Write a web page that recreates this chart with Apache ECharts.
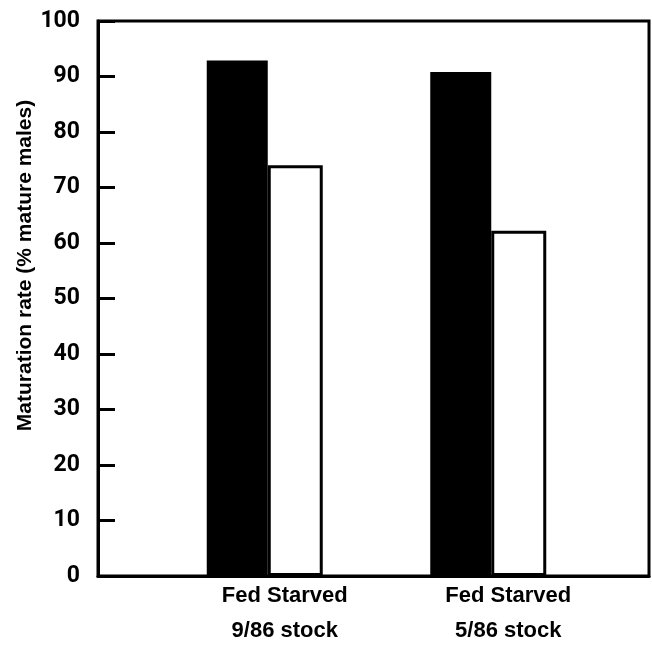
<!DOCTYPE html>
<html>
<head>
<meta charset="utf-8">
<script src="https://cdn.jsdelivr.net/npm/echarts@6/dist/echarts.min.js"></script>
<style>html,body{margin:0;padding:0;background:#fff;}#c{width:652px;height:650px;}</style>
</head>
<body>
<div id="c"></div>
<script>
const groups = ['9/86 stock', '5/86 stock'];
const fedValues = [92.9, 90.8];
const starvedValues = [74.0, 62.2];
const yTicks = [0, 10, 20, 30, 40, 50, 60, 70, 80, 90, 100];
const yName = 'Maturation rate (% mature males)';

const chart = echarts.init(document.getElementById('c'), null, {renderer: 'canvas'});
chart.setOption({
  animation: false,
  backgroundColor: '#fff',
  grid: [
    {left: 98, right: 3, top: 21, bottom: 74, show: true, borderColor: '#000', borderWidth: 3, backgroundColor: 'transparent', z: 10},
    {left: 153, right: 52, top: 21, bottom: 74}
  ],
  xAxis: [
    {gridIndex: 0, type: 'value', min: 0, max: 1, z: 10,
     axisLine: {show: true, lineStyle: {color: '#000', width: 3}},
     axisTick: {show: false}, axisLabel: {show: false}, splitLine: {show: false}},
    {gridIndex: 1, type: 'category', data: groups,
     axisLine: {show: false}, axisTick: {show: false}, splitLine: {show: false},
     axisLabel: {
       margin: 2,
       color: '#000',
       fontFamily: 'Liberation Sans',
       fontWeight: 'bold',
       fontSize: 22,
       lineHeight: 35,
       padding: [0, 0, 0, 40],
       formatter: v => 'Fed Starved\n' + v
     }}
  ],
  yAxis: [
    {gridIndex: 0, type: 'value', min: yTicks[0], max: yTicks[yTicks.length - 1], interval: 10, z: 10,
     name: yName, nameLocation: 'middle', nameRotate: 90, nameGap: 62, nameMoveOverlap: false,
     nameTextStyle: {color: '#000', fontFamily: 'Liberation Sans', fontWeight: 'bold', fontSize: 21, padding: [0, 0, 0, 66]},
     axisLine: {show: true, lineStyle: {color: '#000', width: 3}},
     axisTick: {show: true, inside: true, length: 17, lineStyle: {color: '#000', width: 3}},
     axisLabel: {margin: 18, color: '#000', fontFamily: 'Roboto', fontWeight: 'bold', fontSize: 23},
     splitLine: {show: false}},
    {gridIndex: 1, type: 'value', min: 0, max: 100, show: false}
  ],
  series: [
    {name: 'Fed', type: 'bar', xAxisIndex: 1, yAxisIndex: 1, data: fedValues,
     barWidth: 61, barGap: '0%',
     itemStyle: {color: '#000', borderColor: '#000', borderWidth: 0}},
    {name: 'Starved', type: 'bar', xAxisIndex: 1, yAxisIndex: 1, data: starvedValues,
     barWidth: 55, barGap: '0%',
     itemStyle: {color: '#fff', borderColor: '#000', borderWidth: 3}}
  ]
});
</script>
</body>
</html>
